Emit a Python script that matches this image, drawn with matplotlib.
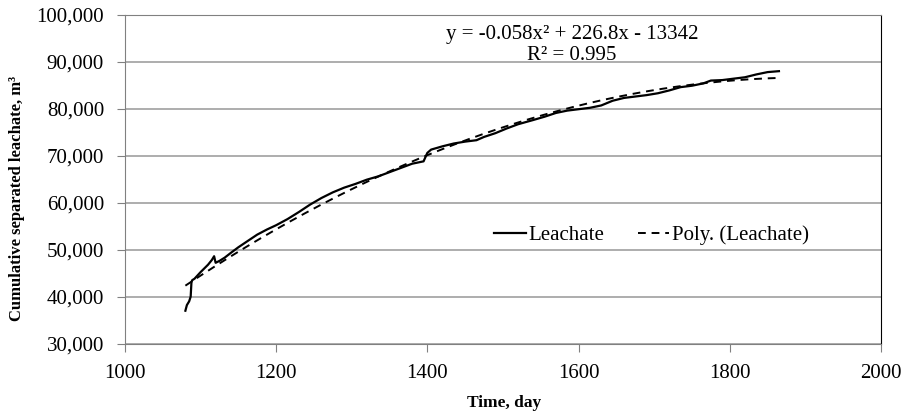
import numpy as np
import matplotlib.pyplot as plt
from matplotlib.ticker import FuncFormatter

plt.rcParams['font.family'] = ['Liberation Serif', 'DejaVu Serif']

# time, day
days = [1080, 1082, 1085, 1087, 1088, 1089, 1092, 1096, 1100, 1105, 1110, 1115, 1118,
        1120, 1125, 1132, 1140, 1150, 1162, 1175, 1188, 1200, 1215, 1230, 1245, 1260,
        1275, 1290, 1305, 1320, 1335, 1350, 1365, 1380, 1395, 1400, 1405, 1420, 1435,
        1450, 1465, 1475, 1490, 1505, 1520, 1540, 1555, 1570, 1585, 1600, 1615, 1630,
        1645, 1660, 1675, 1690, 1705, 1720, 1735, 1750, 1765, 1775, 1790, 1805, 1820,
        1835, 1850, 1865]
# cumulative separated leachate, m3
leachate = [37000, 38200, 39000, 40000, 43000, 43500, 43800, 44500, 45200, 46000,
            46800, 47800, 48600, 47200, 47600, 48300, 49300, 50500, 51800, 53200,
            54300, 55200, 56500, 58000, 59600, 61000, 62200, 63200, 64000, 64900,
            65600, 66500, 67400, 68300, 68800, 70600, 71300, 72000, 72600, 73000,
            73300, 74000, 74800, 75800, 76700, 77600, 78300, 79100, 79600, 79900,
            80200, 80700, 81700, 82300, 82600, 82900, 83300, 83900, 84600, 84900,
            85400, 86000, 86100, 86400, 86700, 87300, 87800, 88000]

fig, ax = plt.subplots(figsize=(9.05, 4.11), dpi=100)
fig.subplots_adjust(left=0.138, right=0.9735, top=0.964, bottom=0.164)

ax.plot(days, leachate, color='black', lw=1.6, label='Leachate')

# second order polynomial trendline
coef = np.polyfit(days, leachate, 2)
xs = np.linspace(min(days), max(days), 200)
ax.plot(xs, np.polyval(coef, xs), color='black', lw=1.4, ls=(0, (4, 3)),
        label='Poly. (Leachate)')

ax.set_xlim(1000, 2000)
ax.set_ylim(30000, 100000)
ax.set_xticks([1000, 1200, 1400, 1600, 1800, 2000])
ax.set_yticks(range(30000, 100001, 10000))
ax.yaxis.set_major_formatter(FuncFormatter(lambda v, p: f'{int(v):,}'))
ax.grid(axis='y', color='#a0a0a0', lw=1.2)
ax.set_axisbelow(True)
ax.tick_params(labelsize=15, length=6, color='#808080')
ax.tick_params(axis='y', pad=9)
ax.tick_params(axis='x', pad=9)
for s in ax.spines.values():
    s.set_color('#808080')
ax.spines['right'].set_color('black')

ax.set_xlabel('Time, day', fontsize=12.5, fontweight='bold', va='center')
ax.xaxis.set_label_coords(0.502, -0.18)
ax.set_ylabel('Cumulative separated leachate, m³', fontsize=12, fontweight='bold',
              va='center')
ax.yaxis.set_label_coords(-0.143, 0.44)

ax.text(0.591, 0.968, 'y = -0.058x² + 226.8x - 13342\nR² = 0.995',
        transform=ax.transAxes, ha='center', va='top', fontsize=15, linespacing=1.15)

ax.legend(loc='center', bbox_to_anchor=(0.697, 0.33), ncol=2, frameon=False,
          fontsize=15, handlelength=1.5, handletextpad=0.15, columnspacing=1.6)

plt.savefig('out.png', dpi=100)
